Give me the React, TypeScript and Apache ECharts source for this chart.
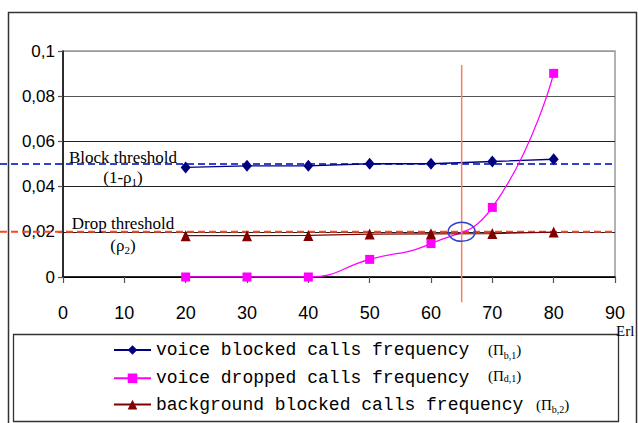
import React, { useEffect, useRef } from "react";
import * as echarts from "echarts";

const LOAD_ERL = [20, 30, 40, 50, 60, 70, 80];
const VOICE_BLOCKED = [0.0485, 0.0492, 0.0492, 0.0501, 0.0501, 0.0511, 0.0521];
const VOICE_DROPPED = [0, 0, 0, 0.0078, 0.0148, 0.0308, 0.0901];
const BACKGROUND_BLOCKED = [0.0183, 0.0183, 0.0184, 0.019, 0.0191, 0.0192, 0.0199];
const SERIES_NAMES = [
  "voice blocked calls frequency",
  "voice dropped calls frequency",
  "background blocked calls frequency",
];
const SERIES_SUBS = ["b,1", "d,1", "b,2"];
const X_TICKS = { min: 0, max: 90, interval: 10 };
const Y_TICKS = { min: 0, max: 0.1, interval: 0.02 };
const BLOCK_THRESHOLD = 0.05;
const DROP_THRESHOLD = 0.02;
const CROSS_LOAD = 65;

const SERIF = '"Liberation Serif", "Times New Roman", serif';
const SANS = 'Arial, "Liberation Sans", sans-serif';
const MONO = '"Courier New", "Liberation Mono", monospace';

export default function App() {
  const ref = useRef<HTMLDivElement>(null);
  useEffect(() => {
    if (!ref.current) return;
    const chart = echarts.init(ref.current, null, { renderer: "svg" });
    const nameWidths = [332, 332, 380];
    const option: any = {
      animation: false,
      backgroundColor: "#fff",
      grid: {
        left: 63,
        top: 51,
        right: 23,
        bottom: 146,
        show: true,
        borderColor: "#999",
        borderWidth: 1.5,
        backgroundColor: "transparent",
      },
      xAxis: {
        type: "value",
        min: X_TICKS.min,
        max: X_TICKS.max,
        interval: X_TICKS.interval,
        axisLine: { show: true, onZero: false, lineStyle: { color: "#000", width: 1.5 } },
        axisTick: { show: true, length: 6, lineStyle: { color: "#555", width: 1.2 } },
        axisLabel: { margin: 27, fontFamily: SANS, fontSize: 18, color: "#000" },
        splitLine: { show: false },
      },
      yAxis: {
        type: "value",
        min: Y_TICKS.min,
        max: Y_TICKS.max,
        interval: Y_TICKS.interval,
        axisLine: { show: true, lineStyle: { color: "#000", width: 1.5 } },
        axisTick: { show: true, length: 5, lineStyle: { color: "#555", width: 1.2 } },
        axisLabel: {
          margin: 8,
          fontFamily: SANS,
          fontSize: 17,
          color: "#000",
          formatter: (v: number) => String(+v.toFixed(3)).replace(".", ","),
        },
        splitLine: {
          show: true,
          lineStyle: { color: ["#000", "#222", "#222", "#222", "#555", "#999"], width: 1.2 },
        },
      },
      legend: {
        orient: "vertical",
        left: 113,
        top: 341,
        padding: 0,
        itemGap: 8.3,
        itemWidth: 37,
        itemHeight: 12,
        data: SERIES_NAMES,
        formatter: (name: string) => {
          const i = SERIES_NAMES.indexOf(name);
          const raised = i === 1;
          const f = raised ? "fr" : "f";
          const s = raised ? "sr" : "s";
          return `{n${i}|${name}}{${f}|(Π}{${s}|${SERIES_SUBS[i]}}{${f}|)}`;
        },
        textStyle: {
          fontFamily: MONO,
          fontSize: 18,
          color: "#000",
          rich: {
            n0: { fontFamily: MONO, fontSize: 18, width: nameWidths[0], lineHeight: 20, color: "#000" },
            n1: { fontFamily: MONO, fontSize: 18, width: nameWidths[1], lineHeight: 20, color: "#000" },
            n2: { fontFamily: MONO, fontSize: 18, width: nameWidths[2], lineHeight: 20, color: "#000" },
            f: { fontFamily: SERIF, fontSize: 15, lineHeight: 20, color: "#000" },
            s: { fontFamily: SERIF, fontSize: 10, lineHeight: 10, verticalAlign: "bottom", color: "#000" },
            fr: { fontFamily: SERIF, fontSize: 15, lineHeight: 20, verticalAlign: "top", color: "#000" },
            sr: { fontFamily: SERIF, fontSize: 10, lineHeight: 20, verticalAlign: "middle", color: "#000" },
          },
        },
      },
      series: [
        {
          name: SERIES_NAMES[0],
          type: "line",
          data: LOAD_ERL.map((x, i) => [x, VOICE_BLOCKED[i]]),
          symbol: "diamond",
          symbolSize: [10, 12],
          lineStyle: { color: "#000080", width: 1.3 },
          itemStyle: { color: "#000080" },
          z: 3,
        },
        {
          name: SERIES_NAMES[1],
          type: "line",
          data: LOAD_ERL.map((x, i) => [x, VOICE_DROPPED[i]]),
          symbol: "rect",
          symbolSize: 9,
          smooth: 0.5,
          lineStyle: { color: "#ff00ff", width: 1.3 },
          itemStyle: { color: "#ff00ff" },
          z: 3,
        },
        {
          name: SERIES_NAMES[2],
          type: "line",
          data: LOAD_ERL.map((x, i) => [x, BACKGROUND_BLOCKED[i]]),
          symbol: "triangle",
          symbolSize: [10, 11],
          lineStyle: { color: "#800000", width: 1.3 },
          itemStyle: { color: "#800000" },
          z: 3,
        },
      ],
    };
    chart.setOption(option);

    const px = (x: number, y: number) => chart.convertToPixel({ gridIndex: 0 }, [x, y]) as number[];
    const [, blockY] = px(0, BLOCK_THRESHOLD);
    const [, dropY] = px(0, DROP_THRESHOLD);
    const [rightX] = px(X_TICKS.max, 0);
    const [crossX, crossY] = px(CROSS_LOAD, DROP_THRESHOLD);
    const [, vTop] = px(CROSS_LOAD, 0.0938);
    const [, vBottom] = px(CROSS_LOAD, -0.0112);
    const labelX = 123;
    const richLabel = {
      a: { fontFamily: SERIF, fontSize: 17, lineHeight: 20, fill: "#000" },
      s: { fontFamily: SERIF, fontSize: 11, lineHeight: 10, verticalAlign: "bottom", fill: "#000" },
    };

    chart.setOption({
      graphic: [
        {
          type: "rect",
          silent: true,
          z: 0,
          shape: { x: 8.5, y: 12.5, width: 628, height: 420 },
          style: { fill: "none", stroke: "#333", lineWidth: 1.5 },
        },
        {
          type: "rect",
          silent: true,
          z: 0,
          shape: { x: 13.5, y: 334.5, width: 605, height: 87 },
          style: { fill: "none", stroke: "#333", lineWidth: 1.3 },
        },
        {
          type: "line",
          silent: true,
          z: 1,
          shape: { x1: 0, y1: blockY, x2: rightX, y2: blockY },
          style: { stroke: "#3344cc", lineWidth: 2, lineDash: [7, 4] },
        },
        {
          type: "line",
          silent: true,
          z: 1,
          shape: { x1: 0, y1: dropY, x2: rightX, y2: dropY },
          style: { stroke: "#ff4422", lineWidth: 2, lineDash: [7, 4] },
        },
        {
          type: "line",
          silent: true,
          z: 5,
          shape: { x1: crossX, y1: vTop, x2: crossX, y2: vBottom },
          style: { stroke: "#f88060", lineWidth: 1.5 },
        },
        {
          type: "ellipse",
          silent: true,
          z: 6,
          shape: { cx: crossX, cy: crossY, rx: 13.5, ry: 9.5 },
          style: { fill: "none", stroke: "#3344cc", lineWidth: 1.5 },
        },
        {
          type: "text",
          silent: true,
          z: 6,
          x: labelX,
          y: blockY - 7,
          style: {
            text: "Block threshold",
            fontFamily: SERIF,
            fontSize: 17,
            fill: "#000",
            align: "center",
            verticalAlign: "middle",
          },
        },
        {
          type: "text",
          silent: true,
          z: 6,
          x: labelX,
          y: blockY + 13.5,
          style: {
            text: "{a|(1-ρ}{s|1}{a|)}",
            align: "center",
            verticalAlign: "middle",
            rich: richLabel,
          },
        },
        {
          type: "text",
          silent: true,
          z: 6,
          x: labelX,
          y: dropY - 8,
          style: {
            text: "Drop threshold",
            fontFamily: SERIF,
            fontSize: 17,
            fill: "#000",
            align: "center",
            verticalAlign: "middle",
          },
        },
        {
          type: "text",
          silent: true,
          z: 6,
          x: labelX,
          y: dropY + 14,
          style: {
            text: "{a|(ρ}{s|2}{a|)}",
            align: "center",
            verticalAlign: "middle",
            rich: richLabel,
          },
        },
        {
          type: "text",
          silent: true,
          z: 6,
          x: 616,
          y: 330.5,
          style: {
            text: "Erl",
            fontFamily: SERIF,
            fontSize: 15,
            fill: "#000",
            align: "left",
            verticalAlign: "middle",
          },
        },
      ],
    });

    return () => chart.dispose();
  }, []);

  return (
    <div
      ref={ref}
      style={{ position: "fixed", left: 0, top: 0, width: 638, height: 423, background: "#fff" }}
    />
  );
}
